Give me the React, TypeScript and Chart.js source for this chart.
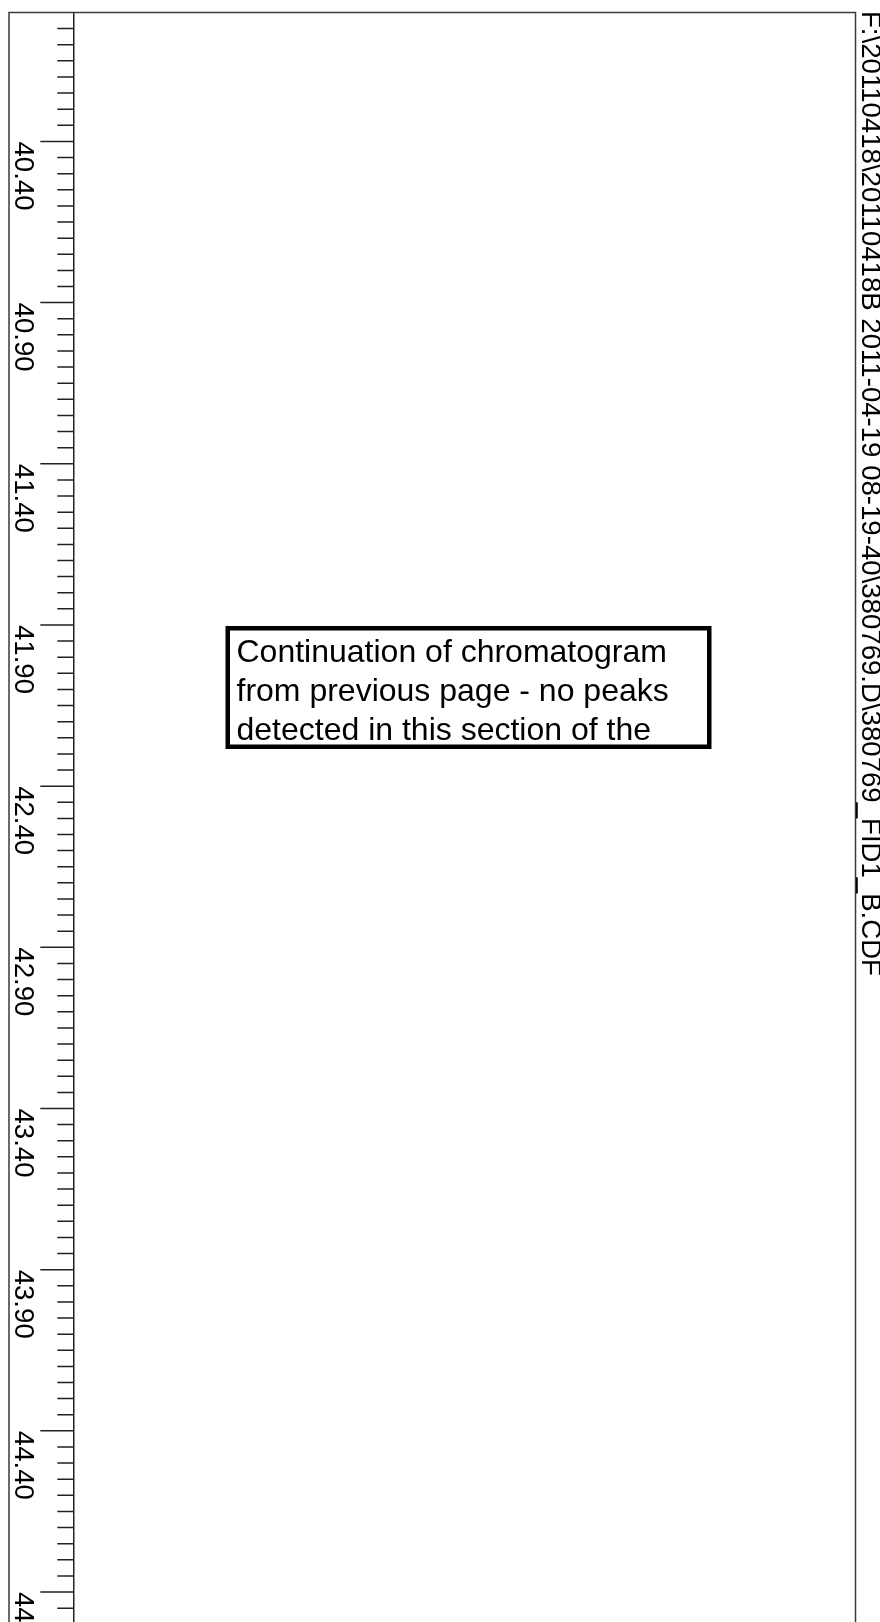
import React, { useEffect, useRef } from "react";
import { Chart, registerables } from "chart.js";

Chart.register(...registerables);

// ---- data ----
const TITLE = "F:\\20110418\\20110418B 2011-04-19 08-19-40\\380769.D\\380769_FID1_B.CDF";
const NOTE_LINES = [
  "Continuation of chromatogram",
  "from previous page - no peaks",
  "detected in this section of the",
];
const Y_MIN = 40.0;
const Y_MAX = 44.993;
const MAJOR_TICKS = [40.4, 40.9, 41.4, 41.9, 42.4, 42.9, 43.4, 43.9, 44.4, 44.9];
const MAJOR_LABELS = ["40.40", "40.90", "41.40", "41.90", "42.40", "42.90", "43.40", "43.90", "44.40", "44.90"];
const MINOR_STEP = 0.05;
// no peaks detected: empty trace
const TRACE_TIMES: number[] = [];
const TRACE_VALUES: number[] = [];

const W = 880;
const H = 1622;

const overlayPlugin = {
  id: "chromOverlay",
  afterDraw(chart: any) {
    const ctx = chart.ctx as CanvasRenderingContext2D;
    const ys = chart.scales.y;
    const area = chart.chartArea;
    ctx.save();
    // outer frame
    ctx.strokeStyle = "#3a3a3a";
    ctx.lineWidth = 1.5;
    ctx.beginPath();
    ctx.moveTo(9, H);
    ctx.lineTo(9, area.top);
    ctx.lineTo(area.right, area.top);
    ctx.lineTo(area.right, H);
    ctx.stroke();

    // ticks
    ctx.strokeStyle = "#222";
    ctx.lineWidth = 1.5;
    ctx.beginPath();
    const n = Math.round((Y_MAX - Y_MIN) / MINOR_STEP);
    for (let i = 1; i <= n + 1; i++) {
      const v = Y_MIN + i * MINOR_STEP;
      const py = ys.getPixelForValue(v);
      if (py > H + 2) break;
      const isMajor = MAJOR_TICKS.some((m) => Math.abs(m - v) < 1e-6);
      ctx.moveTo(area.left - (isMajor ? 33 : 16), py);
      ctx.lineTo(area.left, py);
    }
    ctx.stroke();

    // tick labels (rotated clockwise)
    ctx.fillStyle = "#000";
    ctx.font = "27.6px 'Liberation Sans', Arial, sans-serif";
    ctx.textAlign = "left";
    ctx.textBaseline = "alphabetic";
    MAJOR_TICKS.forEach((v, i) => {
      const py = ys.getPixelForValue(v);
      ctx.save();
      ctx.translate(15, py);
      ctx.rotate(Math.PI / 2);
      ctx.fillText(MAJOR_LABELS[i], 0, 0);
      ctx.restore();
    });

    // title on right, rotated clockwise
    ctx.save();
    ctx.translate(861.5, 11);
    ctx.rotate(Math.PI / 2);
    ctx.fillText(TITLE, 0, 0);
    ctx.restore();

    // note box
    const bx = 225.5, by = 626, bw = 486, bh = 123, bl = 4.5;
    ctx.strokeStyle = "#000";
    ctx.lineWidth = bl;
    ctx.strokeRect(bx + bl / 2, by + bl / 2, bw - bl, bh - bl);
    ctx.font = "32px 'Liberation Sans', Arial, sans-serif";
    const baselines = [662, 701, 740];
    NOTE_LINES.forEach((t, i) => ctx.fillText(t, 236.5, baselines[i]));

    ctx.restore();
  },
};

export default function App() {
  const ref = useRef<HTMLCanvasElement | null>(null);
  useEffect(() => {
    if (!ref.current) return;
    const chart = new Chart(ref.current, {
      type: "line",
      data: {
        datasets: [
          {
            label: "FID1 B",
            data: TRACE_TIMES.map((t, i) => ({ x: TRACE_VALUES[i], y: t })),
            borderColor: "#000",
            borderWidth: 1,
            pointRadius: 0,
          },
        ],
      },
      options: {
        animation: false,
        responsive: false,
        devicePixelRatio: 1,
        layout: { padding: { left: 0, top: 12.5, right: W - 855.5, bottom: 0 } },
        plugins: { legend: { display: false }, tooltip: { enabled: false }, title: { display: false } },
        scales: {
          x: { type: "linear", display: false, min: 0, max: 1 },
          y: {
            type: "linear",
            position: "left",
            reverse: true,
            min: Y_MIN,
            max: Y_MAX,
            grid: { display: false, drawTicks: false },
            ticks: { display: false },
            border: { display: true, color: "#222", width: 1.5 },
            afterFit: (s: any) => {
              s.width = 73.3;
            },
          },
        },
      },
      plugins: [overlayPlugin],
    });
    return () => chart.destroy();
  }, []);
  return (
    <div style={{ position: "fixed", left: 0, top: 0, width: W, height: H, background: "#fff", overflow: "hidden" }}>
      <canvas ref={ref} width={W} height={H} style={{ width: W, height: H, display: "block" }} />
    </div>
  );
}
